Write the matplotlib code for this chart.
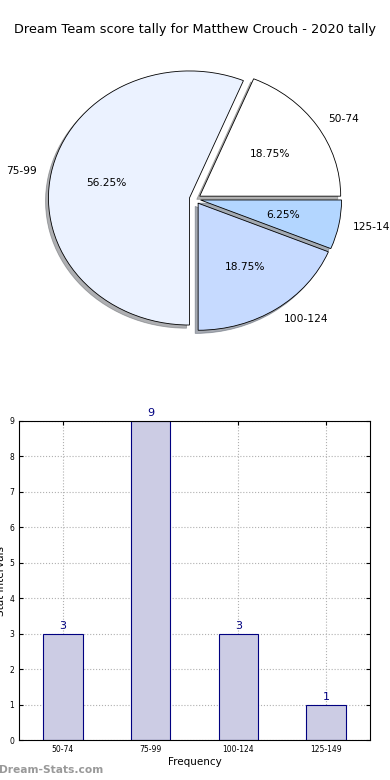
import matplotlib
matplotlib.use('Agg')
import matplotlib.pyplot as plt

# data
categories = ['50-74', '75-99', '100-124', '125-149']
counts = [3, 9, 3, 1]
pie_colors = ['#ffffff', '#ebf2ff', '#c6daff', '#b3d6ff']
title = 'Dream Team score tally for Matthew Crouch - 2020 tally'

fig = plt.figure(figsize=(3.9, 7.8), dpi=100)

# pie chart
ax1 = fig.add_axes([0, 1 - 340/780., 1, 280/780.])
wedges, texts, autotexts = ax1.pie(counts, labels=categories, colors=pie_colors,
                                   explode=[0.04]*4, autopct='%1.2f%%',
                                   shadow={'ox': -0.015, 'oy': -0.018, 'shade': 0.6},
                                   wedgeprops={'edgecolor': 'black', 'linewidth': 0.6},
                                   textprops={'fontsize': 7.7})
ax1.set_aspect('auto')
ax1.set_xlim(-1.383, 1.383)
ax1.set_ylim(-1.11, 1.094)
ax1.axis('off')
fig.text(0.5, 1 - 30/780., title, ha='center', va='center', fontsize=9.3)

# bar chart
ax2 = fig.add_axes([19/390., 1 - 740/780., 351/390., 319/780.])
x = range(len(categories))
ax2.bar(x, counts, width=0.45, color='#cccce4', edgecolor='navy', linewidth=0.8, zorder=2)
for i, c in zip(x, counts):
    ax2.text(i, c + 0.08, str(c), ha='center', va='bottom', color='navy', fontsize=8)
ax2.set_xlim(-0.5, 3.5)
ax2.set_ylim(0, 9)
ax2.set_xticks(list(x))
ax2.set_xticklabels(categories)
ax2.set_yticks(range(10))
ax2.tick_params(direction='in', labelsize=5.5, length=3, top=True, right=True)
ax2.grid(True, linestyle=':', color='#b0b0b0', linewidth=0.8, zorder=0)
ax2.set_axisbelow(True)
for s in ax2.spines.values():
    s.set_linewidth(0.8)
ax2.set_xlabel('Frequency', fontsize=7.5, labelpad=2)
ax2.set_ylabel('Stat Intervals', fontsize=7.5, labelpad=2)

fig.text(-0.003, 1 - 770/780., 'Dream-Stats.com', color='#999999', fontsize=7.7,
         fontweight='bold', ha='left', va='center')

fig.savefig('out.png', dpi=100)
